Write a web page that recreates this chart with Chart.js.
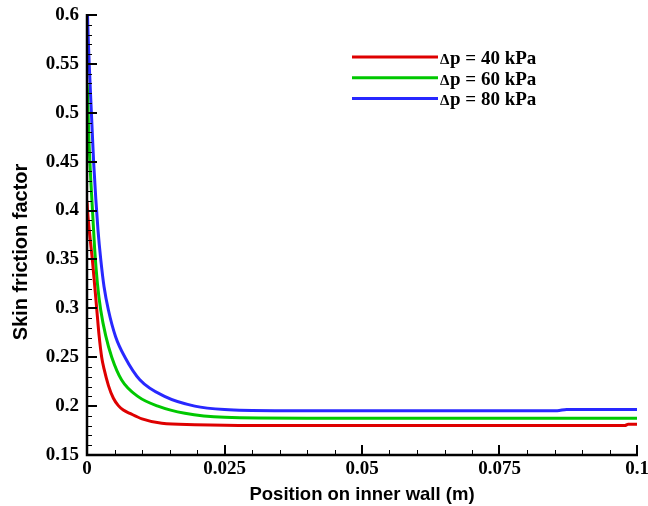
<!DOCTYPE html>
<html>
<head>
<meta charset="utf-8">
<script src="https://cdn.jsdelivr.net/npm/chart.js@4"></script>
<style>
  html, body { margin: 0; padding: 0; background: #fff; }
  #wrap { width: 648px; height: 506px; }
</style>
</head>
<body>
<div id="wrap"><canvas id="cf"></canvas></div>
<script>
// position on inner wall (m) and skin friction factor
const x40 = [0, 0.0001, 0.0005, 0.00097, 0.00176, 0.0022, 0.00267, 0.0031, 0.0039, 0.0048, 0.0057, 0.0066, 0.0078, 0.010, 0.0136, 0.0196, 0.03, 0.05, 0.07, 0.09, 0.0978, 0.0984, 0.1];
const y40 = [0.41, 0.40, 0.375, 0.35, 0.30, 0.272, 0.25, 0.238, 0.221, 0.208, 0.2005, 0.196, 0.1926, 0.187, 0.1824, 0.181, 0.1802, 0.1802, 0.1802, 0.1802, 0.1802, 0.1815, 0.1815];

const x60 = [0, 0.0001, 0.0003, 0.0007, 0.001, 0.0014, 0.0019, 0.0025, 0.0034, 0.0045, 0.0063, 0.0093, 0.0129, 0.0178, 0.025, 0.04, 0.06, 0.08, 0.1];
const y60 = [0.53, 0.52, 0.48, 0.43, 0.40, 0.36, 0.325, 0.298, 0.272, 0.25, 0.2267, 0.2097, 0.200, 0.1926, 0.1885, 0.1876, 0.1876, 0.1876, 0.1876];

const x80 = [0, 0.0001, 0.0004, 0.0008, 0.0012, 0.0016, 0.002, 0.0025, 0.0031, 0.0039, 0.0052, 0.0069, 0.0096, 0.0142, 0.0196, 0.025, 0.035, 0.05, 0.07, 0.0855, 0.0872, 0.1];
const y80 = [0.63, 0.60, 0.55, 0.50, 0.45, 0.412, 0.38, 0.35, 0.322, 0.298, 0.271, 0.25, 0.227, 0.2097, 0.200, 0.1965, 0.1953, 0.1952, 0.1952, 0.1953, 0.1966, 0.1966];

const seriesLabels = ['\u0394p = 40 kPa', '\u0394p = 60 kPa', '\u0394p = 80 kPa'];
const seriesColors = ['rgb(222,0,0)', 'rgb(0,200,0)', 'rgb(40,40,255)'];

const yTicks = [0.15, 0.2, 0.25, 0.3, 0.35, 0.4, 0.45, 0.5, 0.55, 0.6];
const xTicks = [0, 0.025, 0.05, 0.075, 0.1];

const xTitle = 'Position on inner wall (m)';
const yTitle = 'Skin friction factor';

function pts(xs, ys) {
  return xs.map((x, i) => ({ x: x, y: ys[i] }));
}

const tickFont = { family: 'Liberation Serif', size: 19, weight: 'bold' };

// axis lines + inward tick marks (major and minor) + axis titles
const axesPlugin = {
  id: 'axesTicks',
  afterDraw(chart) {
    const ctx = chart.ctx;
    const xs = chart.scales.x, ys = chart.scales.y;
    const a = chart.chartArea;
    ctx.save();
    ctx.strokeStyle = '#000';
    ctx.lineCap = 'butt';
    // minor ticks
    ctx.lineWidth = 1;
    for (let i = 0; i <= 45; i++) {
      if (i % 5 === 0) continue;
      const py = Math.round(ys.getPixelForValue(0.15 + i * 0.01)) + 0.5;
      ctx.beginPath(); ctx.moveTo(a.left, py); ctx.lineTo(a.left + 5, py); ctx.stroke();
    }
    for (let i = 0; i <= 20; i++) {
      if (i % 5 === 0) continue;
      const px = Math.round(xs.getPixelForValue(i * 0.005)) + 0.5;
      ctx.beginPath(); ctx.moveTo(px, a.bottom); ctx.lineTo(px, a.bottom - 5); ctx.stroke();
    }
    // major ticks
    ctx.lineWidth = 2;
    yTicks.forEach(v => {
      const py = Math.round(ys.getPixelForValue(v));
      ctx.beginPath(); ctx.moveTo(a.left, py); ctx.lineTo(a.left + 10, py); ctx.stroke();
    });
    xTicks.forEach(v => {
      const px = Math.round(xs.getPixelForValue(v));
      ctx.beginPath(); ctx.moveTo(px, a.bottom); ctx.lineTo(px, a.bottom - 10); ctx.stroke();
    });
    // axis lines
    ctx.lineWidth = 2.5;
    ctx.beginPath();
    ctx.moveTo(a.left, a.top - 1);
    ctx.lineTo(a.left, a.bottom);
    ctx.lineTo(a.right + 1, a.bottom);
    ctx.stroke();

    // titles
    ctx.fillStyle = '#000';
    ctx.textAlign = 'center';
    ctx.font = 'bold 18.5px "Liberation Sans"';
    ctx.textBaseline = 'alphabetic';
    ctx.fillText(xTitle, (a.left + a.right) / 2, 500);
    ctx.translate(21, 252);
    ctx.rotate(-Math.PI / 2);
    ctx.font = 'bold 20px "Liberation Sans"';
    ctx.textBaseline = 'middle';
    ctx.fillText(yTitle, 0, 0);
    ctx.restore();
  }
};

// legend drawn inside the plot, upper right
const legendPlugin = {
  id: 'innerLegend',
  afterDraw(chart) {
    const ctx = chart.ctx;
    ctx.save();
    ctx.textBaseline = 'alphabetic';
    ctx.fillStyle = '#000';
    chart.data.datasets.forEach((ds, i) => {
      const y = 57 + i * 20.7;
      ctx.strokeStyle = ds.borderColor;
      ctx.lineWidth = 3;
      ctx.beginPath(); ctx.moveTo(352, y); ctx.lineTo(438, y); ctx.stroke();
      ctx.font = 'bold 15px "Liberation Serif"';
      ctx.fillText(ds.label.charAt(0), 440, y + 7);
      ctx.font = 'bold 19px "Liberation Serif"';
      ctx.fillText(ds.label.slice(1), 450, y + 7);
    });
    ctx.restore();
  }
};

new Chart(document.getElementById('cf'), {
  type: 'line',
  data: {
    datasets: [
      { label: seriesLabels[0], data: pts(x40, y40), borderColor: seriesColors[0] },
      { label: seriesLabels[1], data: pts(x60, y60), borderColor: seriesColors[1] },
      { label: seriesLabels[2], data: pts(x80, y80), borderColor: seriesColors[2] }
    ]
  },
  options: {
    responsive: true,
    maintainAspectRatio: false,
    animation: false,
    layout: { padding: { left: 0, right: 11, top: 15, bottom: 0 } },
    elements: {
      point: { radius: 0 },
      line: { borderWidth: 3, cubicInterpolationMode: 'monotone' }
    },
    plugins: {
      legend: { display: false },
      tooltip: { enabled: false }
    },
    scales: {
      x: {
        type: 'linear',
        min: 0,
        max: 0.1,
        afterFit: s => { s.height = 51; s.paddingLeft = 0; s.paddingRight = 0; },
        afterBuildTicks: s => { s.ticks = xTicks.map(v => ({ value: v })); },
        grid: { display: false, drawTicks: false },
        border: { display: false },
        ticks: {
          font: tickFont,
          color: '#000',
          padding: 3,
          maxRotation: 0,
          callback: v => String(+v.toFixed(3))
        }
      },
      y: {
        min: 0.15,
        max: 0.6,
        afterFit: s => { s.width = 87; s.paddingTop = 0; s.paddingBottom = 0; },
        afterBuildTicks: s => { s.ticks = yTicks.map(v => ({ value: v })); },
        grid: { display: false, drawTicks: false },
        border: { display: false },
        ticks: {
          font: tickFont,
          color: '#000',
          padding: 8,
          callback: v => String(+v.toFixed(3))
        }
      }
    }
  },
  plugins: [axesPlugin, legendPlugin]
});
</script>
</body>
</html>
